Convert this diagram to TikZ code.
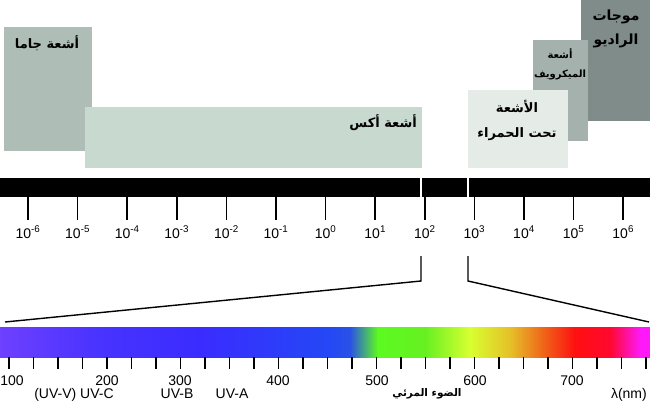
\documentclass[tikz,border=0pt]{standalone}
\usepackage{fontspec}
\setmainfont{Liberation Sans}
\newfontfamily\arabicfont[Script=Arabic]{DejaVu Sans}
\TeXXeTstate=1
\usetikzlibrary{positioning}
\definecolor{GammaGrey}{HTML}{AEBDB6}
\definecolor{XrayGreen}{HTML}{C8D9CF}
\definecolor{InfraPale}{HTML}{E5EBE6}
\definecolor{MicroGrey}{HTML}{A4B1AD}
\definecolor{RadioGrey}{HTML}{808C8A}
\definecolor{SpA}{HTML}{6E40FF}
\definecolor{SpB}{HTML}{4833FF}
\definecolor{SpC}{HTML}{3A2CFF}
\definecolor{SpD}{HTML}{2448F5}
\definecolor{SpE}{HTML}{2A52E6}
\definecolor{SpF}{HTML}{5CFA20}
\definecolor{SpG}{HTML}{66F022}
\definecolor{SpH}{HTML}{D8FF30}
\definecolor{SpI}{HTML}{E6C028}
\definecolor{SpJ}{HTML}{F06018}
\definecolor{SpK}{HTML}{FF1010}
\definecolor{SpL}{HTML}{FF0830}
\definecolor{SpM}{HTML}{FF18F8}
\newcommand{\artxt}[1]{{\arabicfont\beginR #1\endR}}

\begin{document}
\begin{tikzpicture}[x=1pt,y=-1pt]
\tikzset{band/.style={draw=none,anchor=north west,inner sep=0pt},bandtxt/.style={font=\fontsize{13}{25}\selectfont\bfseries,align=center,inner sep=0pt},tickline/.style={line width=1.6pt},num/.style={font=\fontsize{14}{14}\selectfont,inner sep=0pt,anchor=base},zoomline/.style={line width=1.4pt}}
\useasboundingbox (0,0) rectangle (650,404);
\node[band,fill=GammaGrey,minimum width=88pt,minimum height=124pt] (g) at (4,27) {};
\node[band,fill=XrayGreen,minimum width=337pt,minimum height=61pt] (x) at (85,107) {};
\node[band,fill=RadioGrey,minimum width=69pt,minimum height=121pt] (rd) at (581,0) {};
\node[band,fill=MicroGrey,minimum width=55pt,minimum height=101pt] (mw) at (533,40) {};
\node[band,fill=InfraPale,minimum width=100pt,minimum height=78pt] (ir) at (468,90) {};
\node[bandtxt] (gt) at (47,43) {\artxt{أشعة جاما}};
\node[bandtxt,anchor=east] (xt) at (417,123) {\artxt{أشعة أكس}};
\node[bandtxt] (irt) at (517,120) {\artxt{الأشعة}\\\artxt{تحت الحمراء}};
\node[bandtxt,font=\fontsize{10}{19}\selectfont\bfseries] (mwt) at (560,64) {\artxt{أشعة}\\\artxt{الميكرويف}};
\node[bandtxt,font=\fontsize{14}{24}\selectfont\bfseries] (rdt) at (616,29) {\artxt{موجات}\\\artxt{الراديو}};
\fill (0,178) rectangle (420,197);
\fill (422,178) rectangle (467,197);
\fill (469,178) rectangle (650,197);
\foreach \i [evaluate=\i as \e using int(\i-6)] in {0,...,12}{
  \coordinate (t\i) at (28+49.6*\i,188);
  \draw[tickline] (t\i) -- ++(0,32) coordinate (b\i);
  \node[num] (l\i) at ([yshift=-18pt]b\i) {10\textsuperscript{\e}};
}
\coordinate (za) at (421,256);
\coordinate (zb) at (421,281);
\coordinate (zc) at (5,322);
\coordinate (zd) at (468,256);
\coordinate (ze) at (468,281);
\coordinate (zf) at (649,322);
\draw[zoomline] (za) -- (zb) -- (zc);
\draw[zoomline] (zd) -- (ze) -- (zf);
\foreach \xa/\ca/\xb/\cb in {0/SpA/100/SpB,100/SpB/200/SpC,200/SpC/330/SpD,330/SpD/350/SpE,350/SpE/378/SpF,378/SpF/425/SpG,425/SpG/470/SpH,470/SpH/510/SpI,510/SpI/545/SpJ,545/SpJ/575/SpK,575/SpK/610/SpL,610/SpL/640/SpM,640/SpM/650/SpM}
  \shade[left color=\ca,right color=\cb] (\xa,327) rectangle (\xb,357);
\node[band,minimum width=650pt,minimum height=30pt] (sp) at (0,327) {};
\foreach \i in {0,...,26}
  \draw[tickline] (9+24.5*\i,357) -- ++(0,12);
\node[num] (n1) at (12,385) {100};
\node[num] (n2) at (107,385) {200};
\node[num] (n3) at (180,385) {300};
\node[num] (n4) at (278,385) {400};
\node[num] (n5) at (377,385) {500};
\node[num] (n6) at (475,385) {600};
\node[num] (n7) at (572,385) {700};
\node[num] (uvc) at (74,398) {(UV-V) UV-C};
\node[num] (uvb) at (177,398) {UV-B};
\node[num] (uva) at (232,398) {UV-A};
\node[num,font=\fontsize{10.5}{11}\selectfont\bfseries] (vis) at (427,396) {\artxt{الضوء المرئي}};
\node[num,anchor=base east] (lam) at (647,398) {λ(nm)};
\end{tikzpicture}
\end{document}
